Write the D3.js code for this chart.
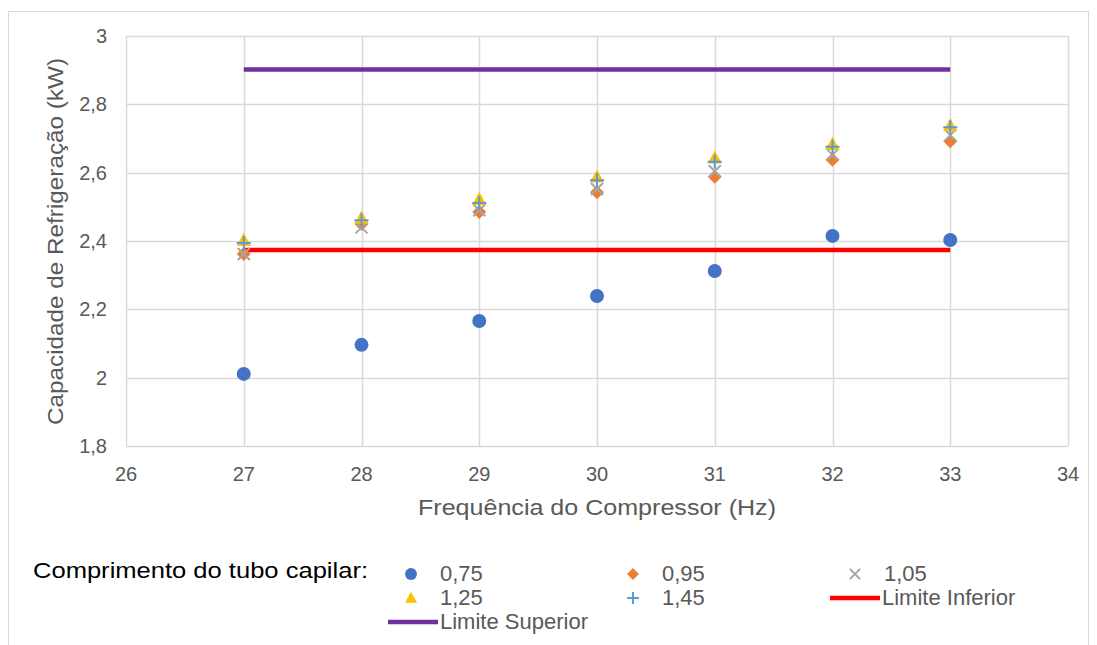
<!DOCTYPE html>
<html>
<head>
<meta charset="utf-8">
<script src="https://cdn.jsdelivr.net/npm/d3@7"></script>
<style>
  body { margin: 0; background: #fff; }
  text { font-family: Arial, "Liberation Sans", sans-serif; }
</style>
</head>
<body>
<svg id="chart" width="1097" height="645"></svg>
<script>
// data
const freqs = [27, 28, 29, 30, 31, 32, 33];
const s075 = [2.011, 2.096, 2.166, 2.239, 2.312, 2.415, 2.403];
const s095 = [2.362, 2.450, 2.485, 2.543, 2.588, 2.638, 2.692];
const s105 = [2.362, 2.440, 2.490, 2.552, 2.604, 2.652, 2.710];
const s125 = [2.402, 2.467, 2.522, 2.588, 2.643, 2.683, 2.738];
const s145 = [2.394, 2.461, 2.511, 2.578, 2.632, 2.676, 2.733];
const limInf = [2.374, 2.374];
const limSup = [2.902, 2.902];
const limX = [27, 33];
const xTicks = [26, 27, 28, 29, 30, 31, 32, 33, 34];
const yTicks = [1.8, 2, 2.2, 2.4, 2.6, 2.8, 3];

const series = [
  {name: '0,75', values: s075, shape: 'circle', color: '#4472C4'},
  {name: '0,95', values: s095, shape: 'diamond', color: '#ED7D31'},
  {name: '1,05', values: s105, shape: 'x', color: '#A5A5A5'},
  {name: '1,25', values: s125, shape: 'triangle', color: '#FFC000'},
  {name: '1,45', values: s145, shape: 'plus', color: '#5B9BD5'}
];

const svg = d3.select('#chart');
const x = d3.scaleLinear().domain([26, 34]).range([126, 1068]);
const y = d3.scaleLinear().domain([1.8, 3]).range([446, 36]);
const fmt = d => String(d).replace('.', ',');

// outer frame
svg.append('rect')
  .attr('x', 8.5).attr('y', 11.5)
  .attr('width', 1080).attr('height', 640)
  .attr('fill', 'none').attr('stroke', '#D9D9D9');

// gridlines
svg.append('g').selectAll('line').data(yTicks).enter().append('line')
  .attr('x1', x(26)).attr('x2', x(34))
  .attr('y1', d => Math.round(y(d)) + 0.5).attr('y2', d => Math.round(y(d)) + 0.5)
  .attr('stroke', '#D9D9D9').attr('stroke-width', 1.5);
svg.append('g').selectAll('line').data(xTicks).enter().append('line')
  .attr('y1', y(1.8)).attr('y2', y(3))
  .attr('x1', d => Math.round(x(d)) + 0.5).attr('x2', d => Math.round(x(d)) + 0.5)
  .attr('stroke', '#D9D9D9').attr('stroke-width', 1.5);

// tick labels
svg.append('g').selectAll('text').data(yTicks).enter().append('text')
  .attr('x', 107).attr('y', d => y(d) + 7)
  .attr('text-anchor', 'end').attr('font-size', 20).attr('fill', '#595959')
  .text(fmt);
svg.append('g').selectAll('text').data(xTicks).enter().append('text')
  .attr('x', d => x(d)).attr('y', 481)
  .attr('text-anchor', 'middle').attr('font-size', 20).attr('fill', '#595959')
  .text(fmt);

// axis titles
svg.append('text')
  .attr('x', 418).attr('y', 515)
  .attr('font-size', 22).attr('fill', '#595959')
  .attr('textLength', 358).attr('lengthAdjust', 'spacingAndGlyphs')
  .text('Frequência do Compressor (Hz)');
svg.append('text')
  .attr('transform', 'translate(63,425) rotate(-90)')
  .attr('font-size', 22).attr('fill', '#595959')
  .attr('textLength', 367).attr('lengthAdjust', 'spacingAndGlyphs')
  .text('Capacidade de Refrigeração (kW)');

// limit lines
const line = d3.line().x(d => x(d[0])).y(d => y(d[1]));
svg.append('path').datum(limX.map((v, i) => [v, limSup[i]]))
  .attr('d', line).attr('stroke', '#7030A0').attr('stroke-width', 4.5).attr('fill', 'none');
svg.append('path').datum(limX.map((v, i) => [v, limInf[i]]))
  .attr('d', line).attr('stroke', '#FF0000').attr('stroke-width', 4.5).attr('fill', 'none');

function marker(g, shape, color, scale) {
  const k = scale || 1;
  if (shape === 'circle') {
    g.append('circle').attr('r', 7 * k).attr('fill', color);
  } else if (shape === 'diamond') {
    const r = 7 * k;
    g.append('path').attr('d', `M0,${-r}L${r},0L0,${r}L${-r},0Z`).attr('fill', color);
  } else if (shape === 'triangle') {
    const r = 7.5 * k;
    g.append('path').attr('d', `M0,${-r}L${r * 0.95},${r * 0.75}L${-r * 0.95},${r * 0.75}Z`).attr('fill', color);
  } else if (shape === 'x') {
    const r = 6 * k;
    g.append('path').attr('d', `M${-r},${-r}L${r},${r}M${-r},${r}L${r},${-r}`)
      .attr('stroke', color).attr('stroke-width', 2).attr('fill', 'none');
  } else if (shape === 'plus') {
    const r = 7 * k;
    g.append('path').attr('d', `M${-r},0L${r},0M0,${-r}L0,${r}`)
      .attr('stroke', color).attr('stroke-width', 2).attr('fill', 'none');
  }
}

// points
series.forEach(s => {
  svg.append('g').selectAll('g').data(s.values).enter().append('g')
    .attr('transform', (d, i) => 'translate(' + x(freqs[i]) + ',' + y(d) + ')')
    .each(function() { marker(d3.select(this), s.shape, s.color); });
});

// legend
svg.append('text')
  .attr('x', 33).attr('y', 578)
  .attr('font-size', 22).attr('fill', '#000')
  .attr('textLength', 335).attr('lengthAdjust', 'spacingAndGlyphs')
  .text('Comprimento do tubo capilar:');

const legPos = [[411, 574], [633, 574], [855, 574], [411, 598], [633, 598]];
series.forEach((s, i) => {
  const g = svg.append('g').attr('transform', 'translate(' + legPos[i][0] + ',' + legPos[i][1] + ')');
  marker(g, s.shape, s.color, 0.85);
  g.append('text').attr('x', 29).attr('y', 7)
    .attr('font-size', 22).attr('fill', '#595959').text(s.name);
});
const legLines = [
  {name: 'Limite Inferior', color: '#FF0000', x: 830, y: 598},
  {name: 'Limite Superior', color: '#7030A0', x: 388, y: 622}
];
legLines.forEach(l => {
  svg.append('line').attr('x1', l.x).attr('x2', l.x + 50)
    .attr('y1', l.y).attr('y2', l.y)
    .attr('stroke', l.color).attr('stroke-width', 4.5);
  svg.append('text').attr('x', l.x + 52).attr('y', l.y + 7)
    .attr('font-size', 22).attr('fill', '#595959').text(l.name);
});
</script>
</body>
</html>
